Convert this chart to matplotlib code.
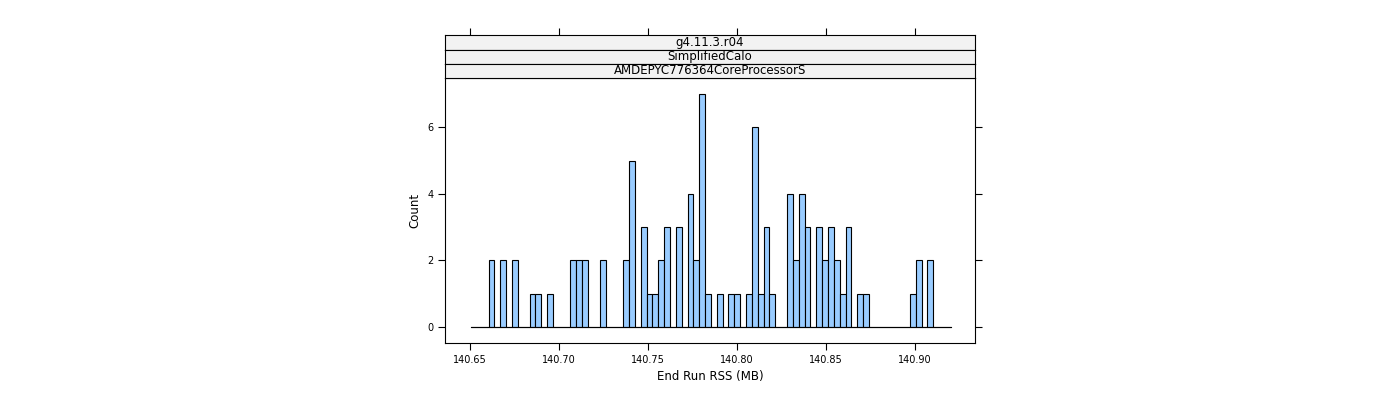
import numpy as np
import matplotlib
matplotlib.use("Agg")
import matplotlib.pyplot as plt

strip_labels = ["g4.11.3.r04", "SimplifiedCalo", "AMDEPYC776364CoreProcessorS"]
bin_start = 140.6506
bin_width = 0.003287
n_bins = 82
# bin index (relative to first visible bar, offset 3) -> count
bar_bins = [0, 2, 4, 7, 8, 10, 14, 15, 16, 19, 23, 24, 26, 27, 28, 29, 30, 32, 34, 35, 36, 37,
            39, 41, 42, 44, 45, 46, 47, 48, 51, 52, 53, 54, 56, 57, 58, 59, 60, 61, 63, 64, 72, 73, 75]
bar_counts = [2, 2, 2, 1, 1, 1, 2, 2, 2, 2, 2, 5, 3, 1, 1, 2, 3, 3, 4, 2, 7, 1,
              1, 1, 1, 1, 6, 1, 3, 1, 4, 2, 4, 3, 3, 2, 3, 2, 1, 3, 1, 1, 1, 2, 2]
xticks = [140.65, 140.70, 140.75, 140.80, 140.85, 140.90]
yticks = [0, 2, 4, 6]

W, H = 1400, 400
fig = plt.figure(figsize=(14, 4), dpi=100)
L, R, T, B = 445, 975, 78, 343
ax = fig.add_axes([L / W, 1 - B / H, (R - L) / W, (B - T) / H])

edges = bin_start + bin_width * np.arange(n_bins + 1)
centers = [edges[b + 3] + bin_width / 2 for b in bar_bins]
ax.hist(centers, bins=edges, weights=bar_counts, color="#99ccff", edgecolor="black", linewidth=0.8)
ax.plot([edges[0], edges[-1]], [0, 0], color="black", lw=0.8)
ax.set_xlim(140.636, 140.9337)
ax.set_ylim(-0.48, 7.48)
ax.set_xticks(xticks)
ax.set_xticklabels([f"{v:.2f}" for v in xticks], fontsize=7)
ax.set_yticks(yticks)
ax.set_yticklabels([str(v) for v in yticks], fontsize=7)
ax.tick_params(direction="out", length=5, width=0.8, right=True, top=False)
ax.set_xlabel("End Run RSS (MB)", fontsize=8.5)
ax.set_ylabel("Count", fontsize=8.5)
for s in ax.spines.values():
    s.set_linewidth(0.8)

tops = [35, 49.5, 64, 78]
for i, lab in enumerate(strip_labels):
    sa = fig.add_axes([L / W, 1 - tops[i + 1] / H, (R - L) / W, (tops[i + 1] - tops[i]) / H])
    sa.set_facecolor("#f2f2f2")
    sa.set_xlim(ax.get_xlim())
    sa.set_yticks([])
    sa.set_xticks([])
    sa.text(0.5, 0.5, lab, ha="center", va="center", fontsize=8.5, transform=sa.transAxes)
    for s in sa.spines.values():
        s.set_linewidth(0.8)
    if i == 0:
        sa.set_xticks(xticks)
        sa.tick_params(axis="x", bottom=False, top=True, labeltop=False, labelbottom=False,
                       direction="out", length=5, width=0.8)

fig.savefig("out.png", dpi=100)
